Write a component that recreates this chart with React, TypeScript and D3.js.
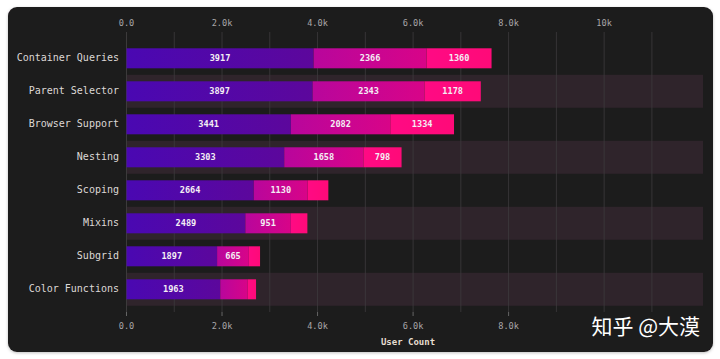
import React from "react";
import { scaleBand, scaleLinear } from "d3";

const categories = [
  "Container Queries",
  "Parent Selector",
  "Browser Support",
  "Nesting",
  "Scoping",
  "Mixins",
  "Subgrid",
  "Color Functions",
];
// three stacked series (last ones unlabeled, estimated)
const seriesA = [3917, 3897, 3441, 3303, 2664, 2489, 1897, 1963];
const seriesB = [2366, 2343, 2082, 1658, 1130, 951, 665, 575];
const seriesC = [1360, 1178, 1334, 798, 432, 347, 234, 174];
const tickValues = [0, 2000, 4000, 6000, 8000, 10000];
const gridValues = [1000, 2000, 3000, 4000, 5000, 6000, 7000, 8000, 9000, 10000, 11000];

const mono = "'DejaVu Sans Mono', 'Liberation Mono', monospace";

// gradient stops per series: [left, right]
const gradients = [
  ["#4a08b2", "#5c079c"],
  ["#b8069c", "#d80488"],
  ["#ff0a84", "#ff0a78"],
];

function fmt(v: number) {
  if (v === 0) return "0.0";
  if (v >= 10000) return Math.round(v / 1000) + "k";
  return (v / 1000).toFixed(1) + "k";
}

export default function App() {
  const width = 720;
  const height = 359;
  const x = scaleLinear().domain([0, 12070]).range([126.5, 703]);
  const y = scaleBand().domain(categories).range([41.8, 305.8]).padding(0);
  const barH = 20;
  const series = [seriesA, seriesB, seriesC];

  return (
    <svg
      width={width}
      height={height}
      style={{ position: "absolute", left: 0, top: 0, background: "#ffffff" }}
    >
      <defs>
        {gradients.map((g, i) => (
          <linearGradient key={i} id={`g${i}`} x1="0" x2="1" y1="0" y2="0">
            <stop offset="0%" stopColor={g[0]} />
            <stop offset="100%" stopColor={g[1]} />
          </linearGradient>
        ))}
        <filter id="sh" x="-5%" y="-5%" width="110%" height="110%">
          <feDropShadow dx="0" dy="1" stdDeviation="1.5" floodColor="#000" floodOpacity="0.25" />
        </filter>
      </defs>

      {/* card */}
      <rect x={8} y={7} width={705} height={345} rx={9} fill="#1c1a1b" filter="url(#sh)" />

      {/* alternating row bands */}
      {categories.map((c, i) =>
        i % 2 === 1 ? (
          <rect
            key={c}
            x={x(0)}
            y={y(c)}
            width={x.range()[1] - x(0)}
            height={y.bandwidth()}
            fill="#2f242b"
          />
        ) : null
      )}

      {/* gridlines */}
      <line x1={x(0)} x2={x(0)} y1={32} y2={312} stroke="#3c3a3b" strokeWidth={1} />
      {gridValues.map((v) => (
        <line key={v} x1={x(v)} x2={x(v)} y1={32} y2={312} stroke="#3d3b3d" strokeWidth={0.8} />
      ))}

      {/* top tick labels */}
      {tickValues.map((v) => (
        <text
          key={"t" + v}
          x={x(v)}
          y={23}
          textAnchor="middle"
          dominantBaseline="middle"
          fontFamily={mono}
          fontSize={8.6}
          fill="#a9a6a8"
        >
          {fmt(v)}
        </text>
      ))}

      {/* bottom ticks + labels */}
      {tickValues.slice(0, 5).map((v) => (
        <g key={"b" + v}>
          <line x1={x(v)} x2={x(v)} y1={312} y2={316} stroke="#777" strokeWidth={0.8} />
          <text
            x={x(v)}
            y={326}
            textAnchor="middle"
            dominantBaseline="middle"
            fontFamily={mono}
            fontSize={8.6}
            fill="#a9a6a8"
          >
            {fmt(v)}
          </text>
        </g>
      ))}
      <text
        x={408}
        y={342.5}
        textAnchor="middle"
        dominantBaseline="middle"
        fontFamily={mono}
        fontSize={9}
        fontWeight="bold"
        fill="#e6ddd0"
      >
        User Count
      </text>

      {/* bars */}
      {categories.map((c, i) => {
        const yc = (y(c) as number) + y.bandwidth() / 2;
        let acc = 0;
        return (
          <g key={c}>
            <text
              x={119}
              y={yc}
              textAnchor="end"
              dominantBaseline="middle"
              fontFamily={mono}
              fontSize={10}
              fill="#dcd8d6"
            >
              {c}
            </text>
            {series.map((s, k) => {
              const v = s[i];
              const x0 = x(acc);
              acc += v;
              const x1 = x(acc);
              return (
                <g key={k}>
                  <rect
                    x={x0}
                    y={yc - barH / 2}
                    width={x1 - x0}
                    height={barH}
                    fill={`url(#g${k})`}
                  />
                  {x1 - x0 > 28 && (
                    <text
                      x={(x0 + x1) / 2}
                      y={yc + 0.5}
                      textAnchor="middle"
                      dominantBaseline="middle"
                      fontFamily={mono}
                      fontSize={8.6}
                      fontWeight="bold"
                      fill="#f4eef4"
                    >
                      {v}
                    </text>
                  )}
                </g>
              );
            })}
          </g>
        );
      })}

      {/* watermark */}
      <text
        x={700}
        y={328}
        textAnchor="end"
        dominantBaseline="middle"
        fontFamily="'Noto Sans CJK SC', sans-serif"
        fontSize={21}
        fill="#ffffff"
      >
        知乎 @大漠
      </text>
    </svg>
  );
}
